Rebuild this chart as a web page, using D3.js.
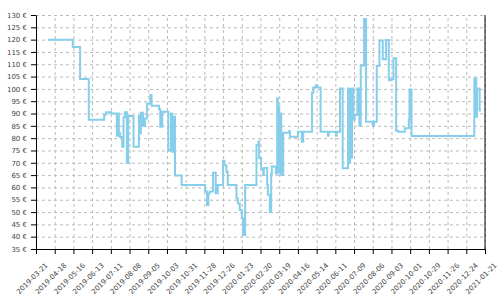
<!DOCTYPE html>
<html>
<head>
<meta charset="utf-8">
<script src="https://cdn.jsdelivr.net/npm/d3@7"></script>
<style>
  body { margin: 0; background: #fff; }
  .line { fill: none; stroke: #87ceeb; stroke-width: 2px; }
  .grid line { stroke: #bbb; stroke-dasharray: 3,3; }
  .grid .domain { display: none; }
  .axis text { font-family: "DejaVu Sans", sans-serif; font-size: 7px; fill: #444; }
</style>
</head>
<body>
<div id="graph-container"></div>
<script>
// price history (step after)
var priceDates = [
  "2019-04-08","2019-05-15","2019-05-26","2019-06-08","2019-07-01","2019-07-04","2019-07-12",
  "2019-07-20","2019-07-22","2019-07-23","2019-07-25","2019-07-28","2019-07-30","2019-08-01",
  "2019-08-04","2019-08-06","2019-08-14","2019-08-22","2019-08-24","2019-08-25","2019-08-28",
  "2019-08-31","2019-09-03","2019-09-08","2019-09-10","2019-09-21","2019-09-23","2019-09-26",
  "2019-10-05","2019-10-09","2019-10-11","2019-10-12","2019-10-15","2019-10-25","2019-11-29",
  "2019-12-02","2019-12-04","2019-12-06","2019-12-11","2019-12-15","2019-12-18","2019-12-26",
  "2019-12-28","2019-12-31","2020-01-02","2020-01-15","2020-01-17","2020-01-20","2020-01-23",
  "2020-01-25","2020-01-28","2020-02-14","2020-02-17","2020-02-18","2020-02-21","2020-02-24",
  "2020-02-25","2020-03-01","2020-03-02","2020-03-05","2020-03-07","2020-03-08","2020-03-14",
  "2020-03-16","2020-03-17","2020-03-18","2020-03-19","2020-03-21","2020-03-22","2020-03-25",
  "2020-04-03","2020-04-04","2020-04-16","2020-04-22","2020-04-24","2020-05-07","2020-05-09",
  "2020-05-13","2020-05-15","2020-05-20","2020-05-31","2020-06-01","2020-06-12","2020-06-13",
  "2020-06-18","2020-06-22","2020-06-30","2020-07-01","2020-07-03","2020-07-04","2020-07-06",
  "2020-07-08","2020-07-10","2020-07-14","2020-07-17","2020-07-19","2020-07-24","2020-07-27",
  "2020-08-06","2020-08-08","2020-08-12","2020-08-16","2020-08-21","2020-08-26","2020-08-30",
  "2020-09-02","2020-09-06","2020-09-10","2020-09-13","2020-09-23","2020-09-29","2020-09-30",
  "2020-10-03","2021-01-05","2021-01-08","2021-01-09","2021-01-12","2021-01-13","2021-01-15"
];
var priceValues = [
  120, 117, 104, 87.5, 89.5, 90.5, 90,
  81, 90, 82, 80.5, 76.5, 88.5, 90.5,
  70, 89, 76.5, 89, 82, 90.3, 85,
  88, 94, 97.5, 93.2, 91.7, 84.6, 90.7,
  75, 90, 74.5, 88.7, 64.8, 61, 58.3,
  52.9, 57.6, 58.3, 66, 57.6, 61, 70.8,
  69, 66.4, 61, 55.6, 53.5, 50.8, 47.5,
  40.7, 61, 77.2, 78.6, 71.8, 67.5, 65,
  67.9, 61, 57, 50, 65.7, 68.5, 65.7,
  96.2, 70, 93, 66, 90, 65, 82.2,
  82.9, 80.6, 82.6, 78.5, 82.6, 98.4, 100.6,
  101.5, 100.6, 82.6, 81, 82.6, 81, 82.6,
  100.2, 67.8, 100.2, 70, 100, 72, 100.2,
  87.6, 89.4, 100.2, 85, 109.5, 128.4, 86.7,
  85.3, 86.7, 109.3, 119.6, 112, 119.8, 103.5,
  103.9, 112.4, 83, 82.6, 84, 87.6, 99.8,
  80.9, 104.3, 88.7, 99.8, 100.2, 91.2, 91.2
];

// axis ticks
var xTickLabels = [
  "2019-03-21","2019-04-18","2019-05-16","2019-06-13","2019-07-11","2019-08-08","2019-09-05",
  "2019-10-03","2019-10-31","2019-11-28","2019-12-26","2020-01-23","2020-02-20","2020-03-19",
  "2020-04-16","2020-05-14","2020-06-11","2020-07-09","2020-08-06","2020-09-03","2020-10-01",
  "2020-10-29","2020-11-26","2020-12-24","2021-01-21"
];
var yTicks = [35,40,45,50,55,60,65,70,75,80,85,90,95,100,105,110,115,120,125,130];

var margin = {top: 15, right: 15, bottom: 51, left: 36};
var width = 500 - margin.left - margin.right;
var height = 300 - margin.top - margin.bottom;

var parseTime = d3.timeParse("%Y-%m-%d");
var fmtTime = d3.timeFormat("%Y-%m-%d");

var data = priceDates.map(function(d, i) {
  return {date: parseTime(d), price: priceValues[i]};
});
var xTicks = xTickLabels.map(parseTime);

var x = d3.scaleTime()
  .domain([xTicks[0], xTicks[xTicks.length - 1]])
  .range([0, width]);
var y = d3.scaleLinear()
  .domain([35, 130])
  .range([height, 0]);

var svg = d3.select("#graph-container").append("svg")
  .attr("width", 500)
  .attr("height", 300)
  .append("g")
  .attr("transform", "translate(" + margin.left + "," + margin.top + ")");

// grid
svg.append("g")
  .attr("class", "grid")
  .call(d3.axisLeft(y).tickValues(yTicks).tickSize(-width).tickFormat(""));
svg.append("g")
  .attr("class", "grid")
  .attr("transform", "translate(0," + height + ")")
  .call(d3.axisBottom(x).tickValues(xTicks).tickSize(-height).tickFormat(""));

// price line
var valueline = d3.line()
  .curve(d3.curveStepAfter)
  .x(function(d) { return x(d.date); })
  .y(function(d) { return y(d.price); });

svg.append("path")
  .data([data])
  .attr("class", "line")
  .attr("d", valueline);

// axes
svg.append("g")
  .attr("class", "axis")
  .call(d3.axisLeft(y).tickValues(yTicks).tickSize(5).tickSizeOuter(0).tickPadding(4)
    .tickFormat(function(d) { return d + " €"; }));

var xAxis = svg.append("g")
  .attr("class", "axis")
  .attr("transform", "translate(0," + height + ")")
  .call(d3.axisBottom(x).tickValues(xTicks).tickSize(5).tickSizeOuter(0).tickFormat(fmtTime));

xAxis.selectAll("text")
  .attr("x", 0)
  .attr("y", 0)
  .attr("dy", "0.35em")
  .style("text-anchor", "end")
  .attr("transform", "translate(10,15) rotate(-45)");

// right border
svg.append("line")
  .attr("x1", width).attr("x2", width)
  .attr("y1", 0).attr("y2", height)
  .attr("stroke", "#000");
</script>
</body>
</html>
